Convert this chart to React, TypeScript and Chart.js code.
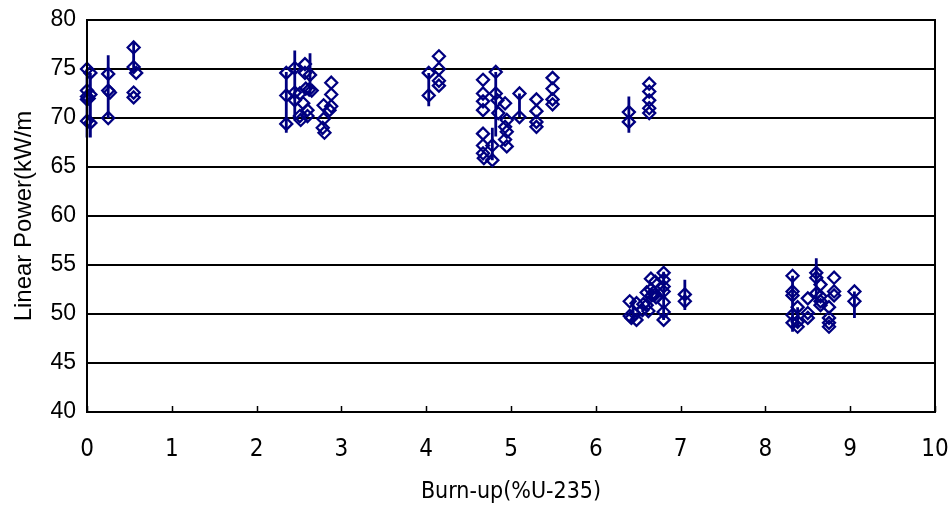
import React, { useEffect, useRef } from "react";
import { Chart, registerables } from "chart.js";

Chart.register(...registerables);

// Measured points: burn-up (%U-235) and linear power (kW/m)
const burnup = [
  0.0, 0.0, 0.0, 0.0, 0.0, 0.04, 0.04, 0.04, 0.02,
  0.25, 0.25, 0.27, 0.25,
  0.55, 0.55, 0.58, 0.55, 0.55,
  2.35, 2.35, 2.35, 2.45, 2.45, 2.45, 2.51, 2.51, 2.52,
  2.57, 2.57, 2.58, 2.55, 2.6, 2.6, 2.63, 2.65, 2.62,
  2.79, 2.79, 2.78, 2.8, 2.88, 2.88, 2.88, 2.86,
  4.03, 4.03, 4.15, 4.15, 4.15, 4.15,
  4.67, 4.67, 4.67, 4.67, 4.67, 4.67, 4.67, 4.68,
  4.78, 4.78, 4.82, 4.82, 4.84, 4.85,
  4.93, 4.95, 4.93, 4.95, 4.93, 4.95,
  5.1, 5.1, 5.3, 5.3, 5.3, 5.3, 5.49, 5.49, 5.49, 5.49,
  6.39, 6.39, 6.63, 6.63, 6.63, 6.63, 6.63,
  6.4, 6.4, 6.42, 6.48, 6.48, 6.46,
  6.55, 6.56, 6.6, 6.6, 6.62,
  6.65, 6.65, 6.66, 6.68, 6.7, 6.7, 6.71,
  6.8, 6.8, 6.8, 6.8, 6.8, 6.8, 6.8,
  7.05, 7.05,
  8.32, 8.32, 8.32, 8.32, 8.32, 8.38, 8.38, 8.38,
  8.5, 8.5, 8.5, 8.6, 8.6, 8.6,
  8.65, 8.65, 8.65, 8.65, 8.75, 8.75, 8.75, 8.75,
  8.81, 8.81, 8.81, 9.05, 9.05,
];
const power = [
  75.0, 72.8, 72.2, 71.9, 69.7, 74.6, 72.4, 69.5, 72.0,
  74.5, 72.8, 72.6, 70.0,
  77.2, 75.2, 74.6, 72.6, 72.1,
  74.6, 72.3, 69.4, 75.1, 72.6, 71.8, 72.5, 70.2, 69.8,
  75.5, 74.6, 73.0, 71.5, 70.8, 70.2, 74.4, 72.8, 72.9,
  71.3, 69.9, 69.0, 68.5, 73.6, 72.4, 71.2, 70.8,
  74.6, 72.3, 76.3, 75.0, 73.8, 73.3,
  73.9, 72.5, 71.7, 70.8, 68.4, 67.2, 66.4, 65.9,
  67.2, 65.7, 74.7, 72.5, 71.8, 70.5,
  71.5, 69.8, 69.1, 68.6, 67.8, 67.1,
  72.5, 70.1, 71.9, 70.7, 69.6, 69.1, 74.1, 73.0, 71.9, 71.4,
  70.6, 69.6, 73.5, 72.7, 71.8, 71.0, 70.5,
  51.3, 49.8, 49.6, 51.1, 49.4, 50.0,
  50.4, 51.0, 52.2, 50.9, 50.3,
  53.6, 52.5, 51.9, 52.2, 53.3, 52.0, 51.7,
  54.2, 53.5, 52.8, 52.3, 51.2, 50.2, 49.4,
  52.0, 51.3,
  53.9, 52.3, 51.9, 49.9, 49.1, 50.7, 49.2, 48.7,
  51.6, 50.1, 49.6, 54.2, 53.7, 52.1,
  53.0, 51.8, 51.3, 50.9, 50.7, 49.6, 49.1, 48.7,
  53.7, 52.3, 51.9, 52.3, 51.3,
];

// Vertical error bars
const errBurnup = [0.0, 0.04, 0.25, 0.55, 2.35, 2.45, 2.63, 4.03, 4.78, 4.82, 5.1, 6.39, 6.44, 6.8, 7.05, 8.32, 8.38, 8.6, 9.05];
const errLow = [68.0, 68.0, 70.0, 74.6, 68.5, 69.8, 72.5, 71.2, 65.7, 68.1, 70.1, 68.5, 49.2, 49.4, 50.4, 48.2, 48.7, 51.0, 49.6];
const errHigh = [75.0, 74.6, 76.4, 77.8, 74.7, 76.9, 76.6, 74.6, 69.0, 74.7, 72.5, 72.2, 51.5, 54.3, 53.5, 53.9, 50.7, 55.7, 52.3];

const xMin = 0;
const xMax = 10;
const xStep = 1;
const yMin = 40;
const yMax = 80;
const yStep = 5;

const xTitle = "Burn-up(%U-235)";
const yTitle = "Linear Power(kW/m";

const NAVY = "#000080";

const framePlugin = {
  id: "frameAndTicks",
  afterDraw(chart: any) {
    const { ctx, chartArea, scales } = chart;
    ctx.save();
    ctx.strokeStyle = "#000";
    ctx.lineWidth = 2;
    ctx.strokeRect(chartArea.left, chartArea.top, chartArea.right - chartArea.left, chartArea.bottom - chartArea.top);
    // inner tick marks on x axis
    const xs = scales.x;
    ctx.lineWidth = 1.5;
    ctx.beginPath();
    for (const t of xs.ticks) {
      const px = Math.round(xs.getPixelForValue(t.value)) + 0.5;
      ctx.moveTo(px, chartArea.bottom);
      ctx.lineTo(px, chartArea.bottom - 6);
    }
    ctx.stroke();
    ctx.restore();
  },
};

export default function App() {
  const ref = useRef<HTMLCanvasElement>(null);

  useEffect(() => {
    if (!ref.current) return;
    const points = burnup.map((x, i) => ({ x, y: power[i] }));
    const bars: any[] = [];
    errBurnup.forEach((x, i) => {
      bars.push({ x, y: errLow[i] });
      bars.push({ x, y: errHigh[i] });
      bars.push({ x, y: null });
    });

    const tickFont = { family: "Arial, 'Liberation Sans', sans-serif", size: 23 };
    const narrowFont = { family: "'Liberation Sans Narrow', 'Arial Narrow', 'DejaVu Sans Condensed', sans-serif", size: 24 };

    const chart = new Chart(ref.current, {
      type: "scatter",
      data: {
        datasets: [
          {
            label: "err",
            data: bars,
            showLine: true,
            spanGaps: false,
            borderColor: NAVY,
            borderWidth: 2.8,
            pointRadius: 0,
            clip: false as any,
          } as any,
          {
            label: "Linear Power",
            data: points,
            pointStyle: "rectRot",
            pointRadius: 6,
            pointBorderWidth: 2.3,
            borderColor: NAVY,
            backgroundColor: "rgba(0,0,0,0)",
            pointBackgroundColor: "rgba(0,0,0,0)",
            clip: false as any,
          } as any,
        ],
      },
      options: {
        animation: false,
        responsive: false,
        events: [],
        layout: { padding: 0 },
        plugins: { legend: { display: false }, tooltip: { enabled: false } },
        scales: {
          x: {
            type: "linear",
            min: xMin,
            max: xMax,
            afterFit: (s: any) => {
              s.height = 94;
              s.paddingLeft = 0;
              s.paddingRight = 16;
            },
            ticks: { stepSize: xStep, autoSkip: false, color: "#000", font: narrowFont, padding: 23, maxRotation: 0 },
            grid: { display: false, drawTicks: false },
            border: { display: true, color: "#000", width: 2 },
            title: { display: true, text: xTitle, color: "#000", font: { ...narrowFont, size: 23 }, padding: { top: 0, bottom: 0 } },
          },
          y: {
            type: "linear",
            min: yMin,
            max: yMax,
            afterFit: (s: any) => {
              s.width = 87;
              s.paddingTop = 20;
              s.paddingBottom = 0;
            },
            ticks: { stepSize: yStep, autoSkip: false, color: "#000", font: tickFont, padding: 11 },
            grid: { color: "#000", lineWidth: 2, drawTicks: false },
            border: { display: true, color: "#000", width: 2 },
            title: { display: true, text: yTitle, color: "#000", font: { ...tickFont, size: 24 }, padding: { top: 10, bottom: 0 } },
          },
        },
      } as any,
      plugins: [framePlugin],
    });
    return () => chart.destroy();
  }, []);

  return (
    <div style={{ position: "absolute", left: 0, top: 0, width: 951, height: 506, background: "#fff" }}>
      <canvas ref={ref} width={951} height={506} style={{ width: 951, height: 506 }} />
    </div>
  );
}
